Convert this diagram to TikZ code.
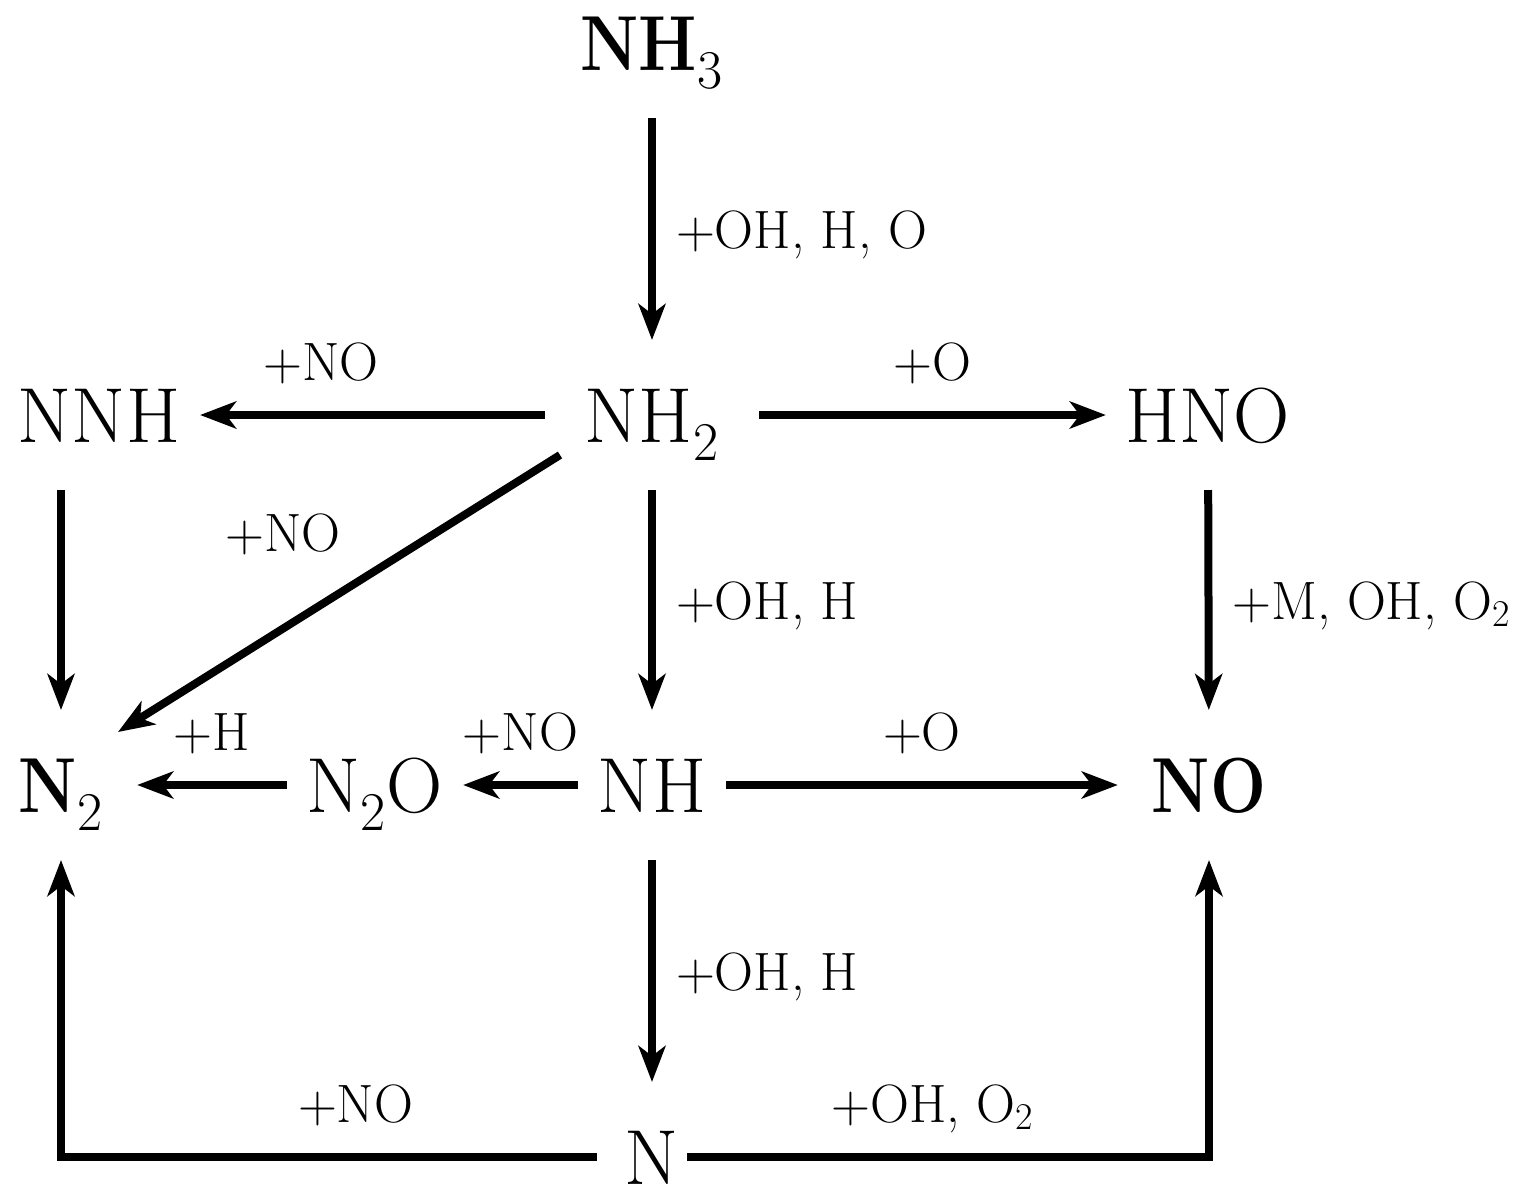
\documentclass[tikz,border=0pt]{standalone}
\usepackage{fontspec}
\usepackage{tikz}
\usetikzlibrary{arrows.meta,calc,positioning}
\newfontfamily\chembf{Latin Modern Roman}[FakeStretch=0.85]
\tikzset{
  species/.style = {anchor=base, inner sep=0pt, text height=27pt, text depth=0pt,
  outer xsep=10pt, outer ysep=24pt, font=\fontsize{39}{47}\selectfont},
  spc_b/.style = {species, font=\fontsize{39}{47}\selectfont},
  rate/.style = {inner sep=0pt, text height=19pt, text depth=0pt,
  font=\fontsize{27}{32}\selectfont}
}
\newcommand{\bsp}[1]{{\chembf\bfseries #1}}

\begin{document}
\begin{tikzpicture}[x=0.5pt,y=-0.5pt,->,>={Stealth[length=18pt,width=13.5pt,inset=5pt]},line width=4pt,
        	lab_r/.style={rate, midway, right=10pt},
        	lab_a/.style={rate, above=15.5pt}]
  \useasboundingbox (0,0) rectangle (1533,1200);
  % species
  \node [spc_b] (nh3) at (652,70) {\bsp{NH}\textsubscript{3}};
  \node [species, outer xsep=20pt] (nh2) at (652,442) {NH\textsubscript{2}};
  \node [species] (nnh) at (99,442) {NNH};
  \node [species] (hno) at (1208,442) {HNO};
  \node [spc_b, outer xsep=17pt] (n2) at (61,812) {\bsp{N}\textsubscript{2}};
  \node [species] (n2o) at (375,812) {N\textsubscript{2}O};
  \node [species] (nh) at (652,812) {NH};
  \node [spc_b, outer xsep=17pt] (no) at (1209,812) {\bsp{NO}};
  \node [species, outer xsep=4pt] (n) at (652,1184) {N};
  % reactions
  \draw (nh3) -- (nh2) node [lab_r] {+OH, H, O};
  \draw (nh2) -- (nnh) node [lab_a, pos=0.65] {+NO};
  \draw (nh2) -- (hno) node [lab_a, midway] {+O};
  \draw (nnh.south -| n2.north) -- (n2.north);
  \draw ([shift={(-92,13)}]nh2.base) -- ([shift={(57,-80)}]n2.base)
    node [rate, pos=0.53, shift={(-43,-69)}] {+NO};
  \draw (nh2) -- (nh) node [lab_r] {+OH, H};
  \draw (hno) -- (no) node [lab_r] {+M, OH, O\textsubscript{2}};
  \draw (nh) -- (n2o) node [lab_a, midway] {+NO};
  \draw (n2o) -- (n2) node [lab_a, midway] {+H};
  \draw (nh) -- (no) node [lab_a, midway] {+O};
  \draw (nh) -- (n) node [lab_r] {+OH, H};
  \draw [shorten <=10pt] (n.west) -| (n2.south) node [lab_a, pos=0.235] {+NO};
  \draw (n.east) -| (no.south) node [lab_a, pos=0.235] {+OH, O\textsubscript{2}};
\end{tikzpicture}
\end{document}
